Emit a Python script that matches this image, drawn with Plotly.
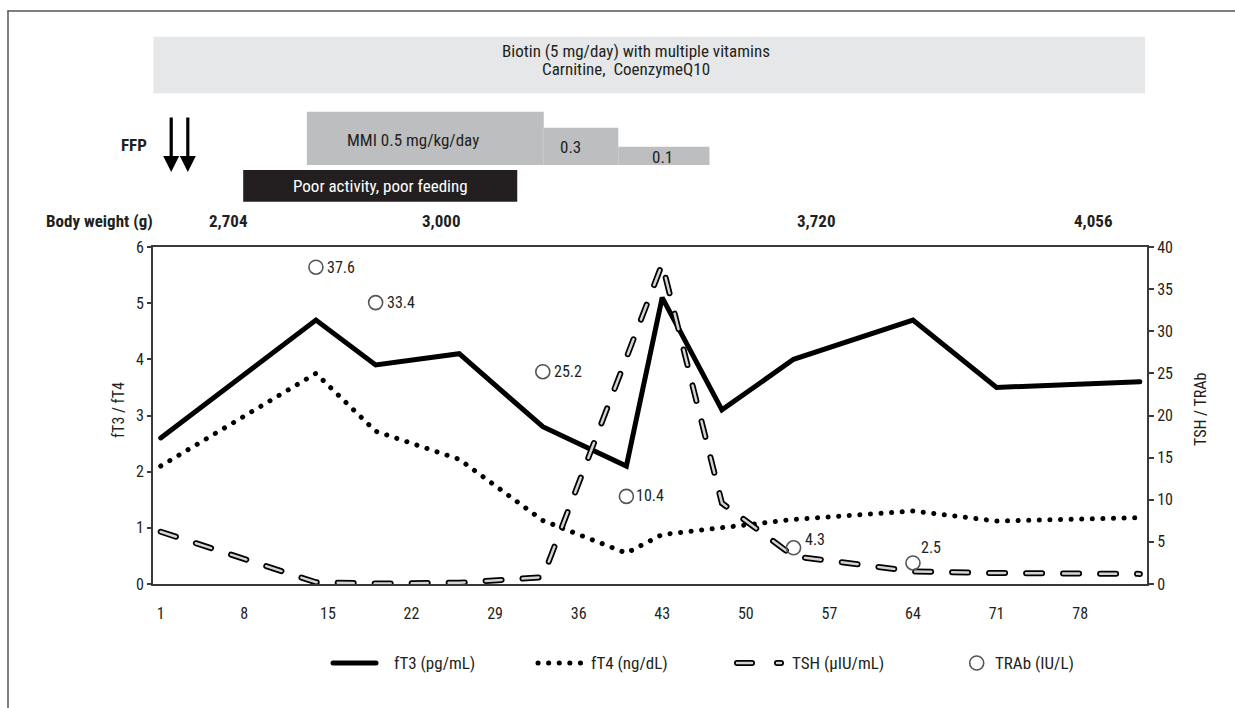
import plotly.graph_objects as go

# ---------------- data ----------------
days = [1, 14, 19, 26, 33, 40, 43, 48, 54, 64, 71, 83]
ft3 = [2.6, 4.7, 3.9, 4.1, 2.8, 2.1, 5.1, 3.1, 4.0, 4.7, 3.5, 3.6]
ft4 = [2.1, 3.75, 2.72, 2.22, 1.13, 0.55, 0.88, 1.0, 1.15, 1.3, 1.12, 1.18]
tsh_days = [1, 14, 19, 26, 33, 43, 48, 54, 64, 71, 83]
tsh = [6.2, 0.2, 0.05, 0.15, 0.8, 38, 9.6, 3.3, 1.5, 1.3, 1.2]
trab_days = [14, 19, 33, 40, 54, 64]
trab = [37.6, 33.4, 25.2, 10.4, 4.3, 2.5]
tick_days = [1, 8, 15, 22, 29, 36, 43, 50, 57, 64, 71, 78]
left_ticks = [0, 1, 2, 3, 4, 5, 6]
right_ticks = [0, 5, 10, 15, 20, 25, 30, 35, 40]

bw_labels = ["2,704", "3,000", "3,720", "4,056"]
bw_days = [6.7, 24.5, 55.9, 79.1]

biotin_text = ["Biotin (5 mg/day) with multiple vitamins", "Carnitine,\u00a0 CoenzymeQ10"]
biotin_span = [0.39, 83.43]
mmi_labels = ["MMI 0.5 mg/kg/day", "0.3", "0.1"]
mmi_start = [13.24, 33.08, 39.32]
mmi_end = [33.08, 39.32, 46.96]
poor_text = "Poor activity, poor feeding"
poor_span = [7.91, 30.86]
ffp_days = [1.88, 3.27]

legend_names = ["fT3 (pg/mL)", "fT4 (ng/dL)", "TSH (\u03bcIU/mL)", "TRAb (IU/L)"]

# ---------------- layout helpers ----------------
W, H = 1235, 708
L, R, T, B = 153, 1147, 247, 584
FONT = "Roboto Condensed, DejaVu Sans Condensed, sans-serif"
TXT = "#231f20"


def px(x):
    return x / W


def py(y):
    return 1 - y / H


def f(size, color=TXT, weight=None):
    d = dict(size=size, color=color, family=FONT)
    if weight:
        d["weight"] = weight
    return d


def note(x, y, text, font, xanchor="center", xref="paper", **kw):
    d = dict(x=x, y=y, xref=xref, yref="paper", text=text, showarrow=False,
             xanchor=xanchor, yanchor="middle", font=font)
    d.update(kw)
    return d


fig = go.Figure()

fig.add_trace(go.Scatter(x=days, y=ft3, mode="lines", name=legend_names[0],
                         line=dict(color="black", width=5)))
fig.add_trace(go.Scatter(x=days, y=ft4, mode="lines", name=legend_names[1],
                         line=dict(color="black", width=5, dash="0.1px,10.5px")))
fig.add_trace(go.Scatter(x=tsh_days, y=tsh, mode="lines", name=legend_names[2], yaxis="y2",
                         line=dict(color="black", width=6, dash="16px,21px")))
fig.add_trace(go.Scatter(x=tsh_days, y=tsh, mode="lines", yaxis="y2", hoverinfo="skip",
                         line=dict(color="#d4d4d4", width=2.5, dash="16px,21px")))
fig.add_trace(go.Scatter(x=trab_days, y=trab, mode="markers", name=legend_names[3], yaxis="y2",
                         marker=dict(symbol="circle-open", size=14, color="#555555",
                                     line=dict(width=1.6, color="#555555"))))

annotations = []
shapes = []

# TRAb value labels
offs = [(9, 0), (9, 0), (9, 0), (8, 1), (9, 8), (6, 15)]
for d, v, (xs, ys) in zip(trab_days, trab, offs):
    annotations.append(dict(x=d, y=v, xref="x", yref="y2", text=str(v), showarrow=False,
                            xanchor="left", yanchor="middle", xshift=xs, yshift=ys, font=f(16)))

# axis titles
annotations.append(note(px(118), py(410), "fT3 / fT4", f(16), textangle=-90))
annotations.append(note(px(1200), py(410), "TSH / TRAb", f(16), textangle=-90))

# frame lines
shapes.append(dict(type="line", xref="paper", yref="paper", x0=px(8), x1=1, y0=py(11), y1=py(11),
                   line=dict(color="#555555", width=1.5)))
shapes.append(dict(type="line", xref="paper", yref="paper", x0=px(8), x1=px(8), y0=py(11), y1=0,
                   line=dict(color="#555555", width=1.5)))

# biotin bar
shapes.append(dict(type="rect", xref="x", yref="paper", x0=biotin_span[0], x1=biotin_span[1],
                   y0=py(93.3), y1=py(36.7), fillcolor="#e6e7e8", line=dict(width=0), layer="below"))
annotations.append(note(px(636), py(51), biotin_text[0], f(17)))
annotations.append(note(px(626), py(69), biotin_text[1], f(17)))

# MMI bars
mmi_tops = [111.7, 127.7, 146.7]
mmi_text_pos = [(413, 140), (570, 147), (662, 157)]
for lab, s, e, top, (tx, ty) in zip(mmi_labels, mmi_start, mmi_end, mmi_tops, mmi_text_pos):
    shapes.append(dict(type="rect", xref="x", yref="paper", x0=s, x1=e, y0=py(165), y1=py(top),
                       fillcolor="#bcbec0", line=dict(width=0), layer="below"))
    annotations.append(note(px(tx), py(ty), lab, f(17)))

# poor activity bar
shapes.append(dict(type="rect", xref="x", yref="paper", x0=poor_span[0], x1=poor_span[1],
                   y0=py(201.7), y1=py(170), fillcolor="#231f20", line=dict(width=0), layer="below"))
annotations.append(note(px(380), py(186), poor_text, f(17, "white")))

# FFP
annotations.append(note(px(148.5), py(145), "FFP", f(17, weight="bold"), xanchor="right"))
for d in ffp_days:
    annotations.append(dict(x=d, y=py(172), xref="x", yref="paper", text="", showarrow=True,
                            ax=0, ay=-56, arrowhead=2, arrowsize=1, arrowwidth=3.2,
                            arrowcolor="black"))

# body weight row
annotations.append(note(px(154.5), py(221), "Body weight (g)", f(17, weight="bold"), xanchor="right"))
for lab, d in zip(bw_labels, bw_days):
    annotations.append(note(d, py(221), lab, f(17, weight="bold"), xref="x"))

# custom legend
LY = 663
shapes.append(dict(type="line", xref="paper", yref="paper", x0=px(333), x1=px(376), y0=py(LY), y1=py(LY),
                   line=dict(color="black", width=5)))
shapes.append(dict(type="line", xref="paper", yref="paper", x0=px(538), x1=px(585), y0=py(LY), y1=py(LY),
                   line=dict(color="black", width=5, dash="0.1px,10.5px")))
for x0, x1 in [(737, 752), (777, 781)]:
    shapes.append(dict(type="line", xref="paper", yref="paper", x0=px(x0), x1=px(x1), y0=py(LY), y1=py(LY),
                       line=dict(color="black", width=6)))
    shapes.append(dict(type="line", xref="paper", yref="paper", x0=px(x0), x1=px(x1), y0=py(LY), y1=py(LY),
                       line=dict(color="#d4d4d4", width=2.5)))
shapes.append(dict(type="circle", xref="paper", yref="paper", x0=px(969.7), x1=px(983.7),
                   y0=py(LY + 7), y1=py(LY - 7), line=dict(color="#555555", width=1.6)))
for name, x in zip(legend_names, [391.6, 589, 789.6, 993]):
    annotations.append(note(px(x), py(LY), name, f(17), xanchor="left"))

axis_common = dict(showgrid=False, zeroline=False, showline=True, linecolor="#3a3a3a", linewidth=2,
                   automargin=False, tickfont=f(16))

fig.update_layout(
    width=W, height=H, margin=dict(l=0, r=0, t=0, b=0),
    paper_bgcolor="white", plot_bgcolor="white",
    font=dict(family=FONT, color=TXT),
    xaxis=dict(domain=[px(L), px(R)], range=[0.355, 83.6], tickmode="array", tickvals=tick_days,
               ticks="outside", ticklen=14, tickcolor="rgba(0,0,0,0)", mirror=True, **axis_common),
    yaxis=dict(domain=[py(B), py(T)], range=[0, 6], tickmode="array", tickvals=left_ticks,
               ticks="outside", ticklen=4, tickwidth=1.5, tickcolor="#3a3a3a", **axis_common),
    yaxis2=dict(overlaying="y", side="right", anchor="x", range=[0, 40], tickmode="array",
                tickvals=right_ticks, ticks="outside", ticklen=5, tickwidth=1.5, tickcolor="#3a3a3a",
                **axis_common),
    shapes=shapes, annotations=annotations, showlegend=False,
)

post = ("document.body.style.margin='0';"
        "var s=document.createElement('style');"
        "s.textContent='.js-line, .shapelayer path{stroke-linecap:round;}';"
        "document.head.appendChild(s);")
fig.write_html("out.html", post_script=post, config={"displayModeBar": False})
